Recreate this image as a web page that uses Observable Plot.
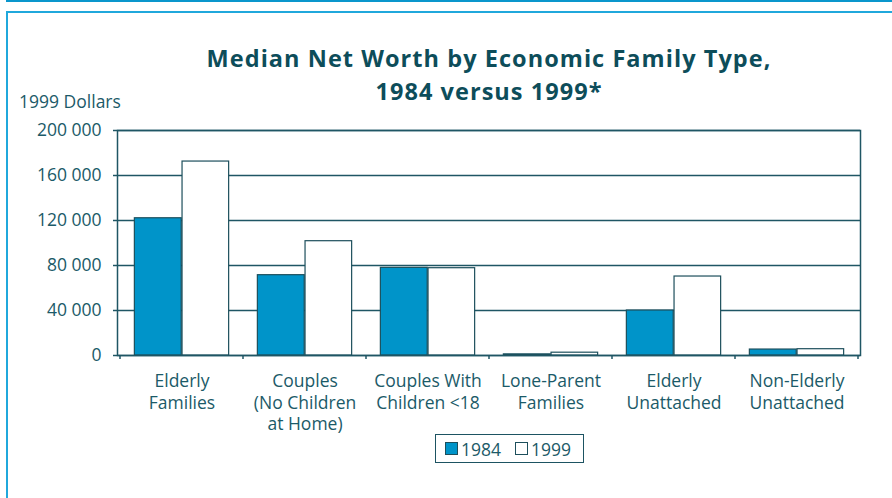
<!DOCTYPE html>
<html>
<head>
<meta charset="utf-8">
<script src="https://cdn.jsdelivr.net/npm/d3@7"></script>
<script src="https://cdn.jsdelivr.net/npm/@observablehq/plot@0.6"></script>
<style>
  html, body { margin: 0; padding: 0; background: #fff; }
  #wrap { position: relative; width: 892px; height: 498px; overflow: hidden; background: #fff; font-family: "Open Sans", sans-serif; }
  #topbar { position: absolute; left: 6px; top: 0; width: 900px; height: 2px; background: #0a96cc; }
  #box { position: absolute; left: 6px; top: 11px; width: 900px; height: 500px; border-left: 2px solid #20a8dc; border-top: 2px solid #20a8dc; box-sizing: border-box; }
  #title { position: absolute; left: 0; width: 978px; top: 42px; text-align: center; color: #0d4d5a; font-weight: 700; font-size: 23.5px; letter-spacing: 1.05px; line-height: 33px; }
  #units { position: absolute; left: 19px; top: 89px; color: #1b5a68; font-size: 17.5px; }
  #chart { position: absolute; left: 0; top: 0; }
  #legend { position: absolute; left: 435px; top: 434px; width: 149px; height: 29px; box-sizing: border-box; border: 1.5px solid #1d5362; color: #1b5a68; font-size: 17.5px; display: flex; align-items: center; padding-left: 9px; }
  .sw { display: inline-block; width: 11px; height: 11px; border: 1px solid #1d4f5c; margin-right: 3px; }
  .item { display: flex; align-items: center; margin-right: 14px; }
</style>
</head>
<body>
<div id="wrap">
  <div id="topbar"></div>
  <div id="box"></div>
  <div id="chart"></div>
  <div id="title">Median Net Worth by Economic Family Type,<br>1984 versus 1999*</div>
  <div id="units">1999 Dollars</div>
  <div id="legend"></div>
</div>
<script>
const categories = [
  "Elderly\nFamilies",
  "Couples\n(No Children\nat Home)",
  "Couples With\nChildren <18",
  "Lone-Parent\nFamilies",
  "Elderly\nUnattached",
  "Non-Elderly\nUnattached"
];
const years = ["1984", "1999"];
const values1984 = [122000, 71400, 77900, 1000, 40000, 5300];
const values1999 = [172400, 101600, 77600, 2500, 70200, 5600];
const yTicks = [0, 40000, 80000, 120000, 160000, 200000];

const colors = { "1984": "#0094c9", "1999": "#ffffff" };
const lineColor = "#1f5664";
const textColor = "#1b5a68";

const W = 892, H = 440;
const mL = 117, mR = 32, mT = 130, mB = 85;
const bw = (W - mL - mR) / categories.length;
const outerPad = bw * 0.116;
const barW = bw * 0.385;

const rows1984 = categories.map((c, i) => ({category: c, year: "1984", value: values1984[i]}));
const rows1999 = categories.map((c, i) => ({category: c, year: "1999", value: values1999[i]}));

const fmt = d => d3.format(",")(d).replace(/,/g, " ");

function bandTicks(index, scales) {
  const x = scales.x, y = scales.y;
  const bwid = typeof x.bandwidth === "function" ? x.bandwidth() : bw;
  const edges = categories.map(c => x(c)).concat([x(categories[categories.length - 1]) + bwid]);
  const g = d3.create("svg:g").attr("stroke", lineColor).attr("stroke-width", 1.5);
  g.selectAll("line").data(edges).join("line")
    .attr("x1", d => d).attr("x2", d => d)
    .attr("y1", y(0)).attr("y2", y(0) + 4);
  return g.node();
}

const chart = Plot.plot({
  width: W, height: H,
  marginLeft: mL, marginRight: mR, marginTop: mT, marginBottom: mB,
  style: { fontFamily: "Open Sans, sans-serif", fontSize: "17.5px", color: textColor, background: "transparent" },
  x: { domain: categories, padding: 0 },
  y: { domain: [0, 200000] },
  marks: [
    Plot.ruleY(yTicks, { stroke: lineColor, strokeWidth: 1.5 }),
    Plot.barY(rows1984, { x: "category", y: "value", fill: colors["1984"], stroke: "#1d4f5c", strokeWidth: 1.2, insetLeft: outerPad, insetRight: bw - outerPad - barW }),
    Plot.barY(rows1999, { x: "category", y: "value", fill: colors["1999"], stroke: "#1d4f5c", strokeWidth: 1.2, insetLeft: outerPad + barW, insetRight: outerPad }),
    Plot.frame({ stroke: lineColor, strokeWidth: 1.5 }),
    bandTicks,
    Plot.axisY({ ticks: yTicks, tickFormat: fmt, tickSize: 4, tickPadding: 12, stroke: lineColor, strokeWidth: 1.5, fill: textColor, fontSize: 17.5, label: null }),
    Plot.axisX({ tickSize: 0, tickPadding: 16, fill: textColor, fontSize: 17.5, lineHeight: 1.24, label: null })
  ]
});
document.getElementById("chart").appendChild(chart);

const legend = document.getElementById("legend");
years.forEach(yr => {
  const it = document.createElement("span");
  it.className = "item";
  const sw = document.createElement("span");
  sw.className = "sw";
  sw.style.background = colors[yr];
  it.appendChild(sw);
  it.appendChild(document.createTextNode(yr));
  legend.appendChild(it);
});
</script>
</body>
</html>
